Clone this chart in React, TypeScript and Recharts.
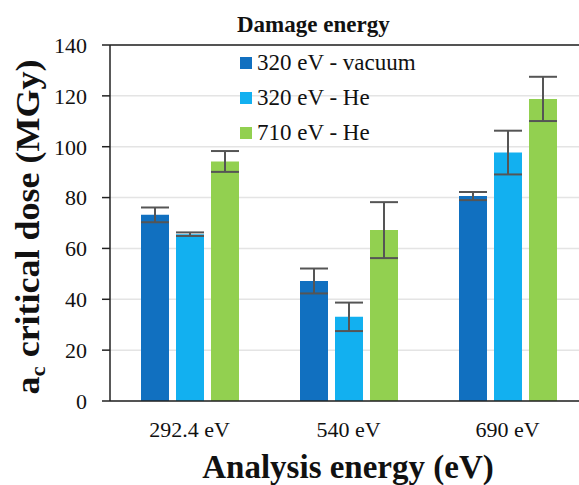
import { BarChart, Bar, XAxis, YAxis, CartesianGrid, ErrorBar, Legend, ReferenceLine, Label } from "recharts";

const categories = ["292.4 eV", "540 eV", "690 eV"];
const vacuum320 = [73.2, 47.2, 80.6];
const vacuum320Err = [2.9, 4.9, 1.6];
const he320 = [65.6, 33.1, 97.7];
const he320Err = [0.7, 5.6, 8.6];
const he710 = [94.2, 67.2, 118.8];
const he710Err = [4.1, 11.0, 8.7];
const yTicks = [0, 20, 40, 60, 80, 100, 120, 140];

const series = [
  { key: "vac", err: "vacErr", name: "320 eV - vacuum", color: "#1170c0" },
  { key: "he320", err: "he320Err", name: "320 eV - He", color: "#12b0f0" },
  { key: "he710", err: "he710Err", name: "710 eV - He", color: "#92d050" },
];

const data = categories.map((c, i) => ({
  name: c,
  vac: vacuum320[i],
  vacErr: vacuum320Err[i],
  he320: he320[i],
  he320Err: he320Err[i],
  he710: he710[i],
  he710Err: he710Err[i],
}));

const serif = "Liberation Serif, serif";

function LegendBox() {
  return (
    <div style={{ fontFamily: serif, color: "#111", lineHeight: 1 }}>
      <div style={{ fontWeight: "bold", fontSize: 23, marginLeft: -3, height: 45, paddingTop: 13, boxSizing: "border-box" }}>
        Damage energy
      </div>
      {series.map((s) => (
        <div key={s.key} style={{ display: "flex", alignItems: "center", height: 35, fontSize: 23 }}>
          <span style={{ width: 12, height: 12, background: s.color, marginRight: 5, display: "inline-block" }} />
          <span>{s.name}</span>
        </div>
      ))}
    </div>
  );
}

const tickStyle = { fill: "#111", fontSize: 22, fontFamily: serif };

export default function App() {
  return (
    <div
      style={{
        position: "absolute",
        left: 0,
        top: 0,
        width: 579,
        height: 485,
        overflow: "hidden",
        background: "#fff",
        fontFamily: serif,
      }}
    >
      <BarChart
        width={600}
        height={485}
        data={data}
        margin={{ top: 45, right: 13, bottom: 0, left: 0 }}
        barCategoryGap={30}
        barGap={7}
      >
        <CartesianGrid vertical={false} stroke="#e4e4e4" strokeWidth={1.5} />
        <XAxis
          dataKey="name"
          axisLine={{ stroke: "#222", strokeWidth: 1.5 }}
          tickLine={false}
          tickSize={0}
          tickMargin={20}
          tick={tickStyle}
          height={84}
        >
          <Label
            content={() => (
              <text x={348} y={478} textAnchor="middle" fontFamily={serif} fontWeight="bold" fontSize={33} fill="#111">
                Analysis energy (eV)
              </text>
            )}
          />
        </XAxis>
        <YAxis
          domain={[0, 140]}
          ticks={yTicks}
          width={110}
          axisLine={{ stroke: "#222", strokeWidth: 1.5 }}
          tickLine={{ stroke: "#222", strokeWidth: 1.5 }}
          tickSize={8}
          tickMargin={15}
          tick={tickStyle}
        >
          <Label
            content={() => (
              <text
                x={39}
                y={227}
                transform="rotate(-90 39 227)"
                textAnchor="middle"
                fontFamily={serif}
                fontWeight="bold"
                fontSize={33}
                fill="#111"
                textLength={335}
                lengthAdjust="spacingAndGlyphs"
              >
                a<tspan fontSize={21} dy={6}>c</tspan>
                <tspan dy={-6}> critical dose (MGy)</tspan>
              </text>
            )}
          />
        </YAxis>
        <ReferenceLine y={140} stroke="#222" strokeWidth={1.5} />
        <Legend
          content={() => <LegendBox />}
          layout="horizontal"
          verticalAlign="middle"
          align="center"
          wrapperStyle={{ top: 0, left: 240, width: 230 }}
        />
        {series.map((s) => (
          <Bar key={s.key} dataKey={s.key} name={s.name} fill={s.color} barSize={28} isAnimationActive={false}>
            <ErrorBar dataKey={s.err} width={14} strokeWidth={2} stroke="#555" direction="y" />
          </Bar>
        ))}
      </BarChart>
    </div>
  );
}
